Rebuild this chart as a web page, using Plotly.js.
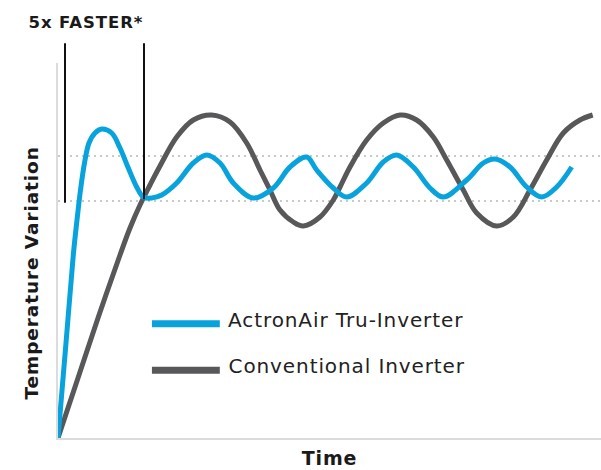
<!DOCTYPE html>
<html>
<head>
<meta charset="utf-8">
<script src="https://cdn.plot.ly/plotly-3.0.1.min.js"></script>
<style>
html,body{margin:0;padding:0;background:#fff;}
#chart{width:601px;height:470px;}
#chart .annotation-text{letter-spacing:0.9px;}
#chart .xtitle{letter-spacing:0.8px;}
</style>
</head>
<body>
<div id="chart"></div>
<script>
// Time / temperature readings for each system (arbitrary units)
var truTime = [0, 8, 15.3, 19, 22.5, 26.5, 31, 37, 43.7, 53.7, 62, 70.3, 78.7, 85.3, 93.7, 103.7, 118.7, 135.3, 148.7, 162, 175.3, 195.3, 215.3, 232, 248.7, 258.7, 275.3, 288.7, 308.7, 325.3, 338.7, 355.3, 372, 385.3, 408.7, 425.3, 437, 452, 468.7, 483.7, 498.7, 513.7];
var truTemp = [0, 95, 183, 218, 248, 275, 295, 305, 309, 305, 290, 270, 251, 241, 240, 243, 255, 275, 283, 275, 255, 240, 250, 271, 281, 268, 250, 241, 255, 276, 283, 271, 250, 241, 258, 275, 279, 271, 251, 241, 251, 271];
var convTime = [0, 20, 40, 62, 72, 82, 92, 102, 118.7, 135.3, 153.7, 172, 188.7, 202, 212, 222, 235.3, 245.3, 262, 275.3, 282, 292, 308.7, 325.3, 342, 358.7, 375.3, 388.7, 405.3, 418.7, 438.7, 455.3, 472, 488.7, 505.3, 522, 534.7];
var convTemp = [0, 60, 120, 183, 210, 233, 253, 272, 301, 318, 323, 316, 295, 268, 248, 228, 216, 212, 221, 238, 251, 271, 298, 315, 323, 318, 301, 278, 248, 225, 212, 221, 248, 278, 305, 318, 323];
var seriesNames = ["ActronAir Tru-Inverter", "Conventional Inverter"];
var seriesColors = ["#08a3dd", "#58585a"];
var comfortBand = [237, 282];      // dotted target band (temperature)
var reachTimes = [7, 86];          // times marked by the "5x FASTER" bars
var reachLabel = "5x FASTER*";
var xTitle = "Time";
var yTitle = "Temperature Variation";

var traces = [
  {x: convTime, y: convTemp, name: seriesNames[1], type: "scatter", mode: "lines",
   line: {color: seriesColors[1], width: 5, shape: "spline", smoothing: 1}, showlegend: false, hoverinfo: "skip"},
  {x: truTime, y: truTemp, name: seriesNames[0], type: "scatter", mode: "lines",
   line: {color: seriesColors[0], width: 5, shape: "spline", smoothing: 1}, showlegend: false, hoverinfo: "skip"}
];

var shapes = [];
comfortBand.forEach(function (v) {
  shapes.push({type: "line", xref: "paper", yref: "y", x0: 0, x1: 1, y0: v, y1: v,
    line: {color: "#c9c9c9", width: 2, dash: "2px,4px"}, layer: "below"});
});
var barBottoms = [0.6275, 0.637];
reachTimes.forEach(function (t, i) {
  shapes.push({type: "line", xref: "x", yref: "paper", x0: t, x1: t, y0: barBottoms[i], y1: 1.053,
    line: {color: "#111111", width: 2}, layer: "above"});
});
// legend swatches
var legY = [0.305, 0.1805];
var legTextY = [0.316, 0.1925];
seriesNames.forEach(function (n, i) {
  shapes.push({type: "line", xref: "paper", yref: "paper", x0: 0.173, x1: 0.298, y0: legY[i], y1: legY[i],
    line: {color: seriesColors[i], width: 7}});
});

var titleFont = {family: "DejaVu Sans", size: 19, color: "#1a1a1a", weight: "bold"};
var annotations = [
  {text: reachLabel, xref: "paper", yref: "paper", x: -0.05, y: 1.1067, xanchor: "left", yanchor: "middle",
   showarrow: false, font: {family: "DejaVu Sans", size: 16.5, color: "#1a1a1a", weight: "bold"}},
  {text: yTitle, xref: "paper", yref: "paper", x: -0.0497, y: 0.44, xanchor: "center", yanchor: "middle",
   textangle: -90, showarrow: false, font: {family: "DejaVu Sans", size: 18.5, color: "#1a1a1a", weight: "bold"}}
];
seriesNames.forEach(function (n, i) {
  annotations.push({text: n, xref: "paper", yref: "paper", x: 0.3275, y: legTextY[i], xanchor: "left", yanchor: "middle",
    showarrow: false, font: {family: "DejaVu Sans", size: 20, color: "#222222"}});
});

var layout = {
  width: 601, height: 470,
  margin: {l: 58, r: 0, t: 63, b: 32},
  paper_bgcolor: "#ffffff", plot_bgcolor: "#ffffff",
  showlegend: false,
  xaxis: {range: [0, 543], showgrid: false, zeroline: false, showticklabels: false, ticks: "",
    showline: true, linecolor: "#dcdcdc", linewidth: 2,
    title: {text: xTitle, font: titleFont, standoff: 13}},
  yaxis: {range: [0, 375], showgrid: false, zeroline: false, showticklabels: false, ticks: "",
    showline: true, linecolor: "#dcdcdc", linewidth: 2},
  shapes: shapes,
  annotations: annotations
};

Plotly.newPlot("chart", traces, layout, {displayModeBar: false, staticPlot: true});
</script>
</body>
</html>
